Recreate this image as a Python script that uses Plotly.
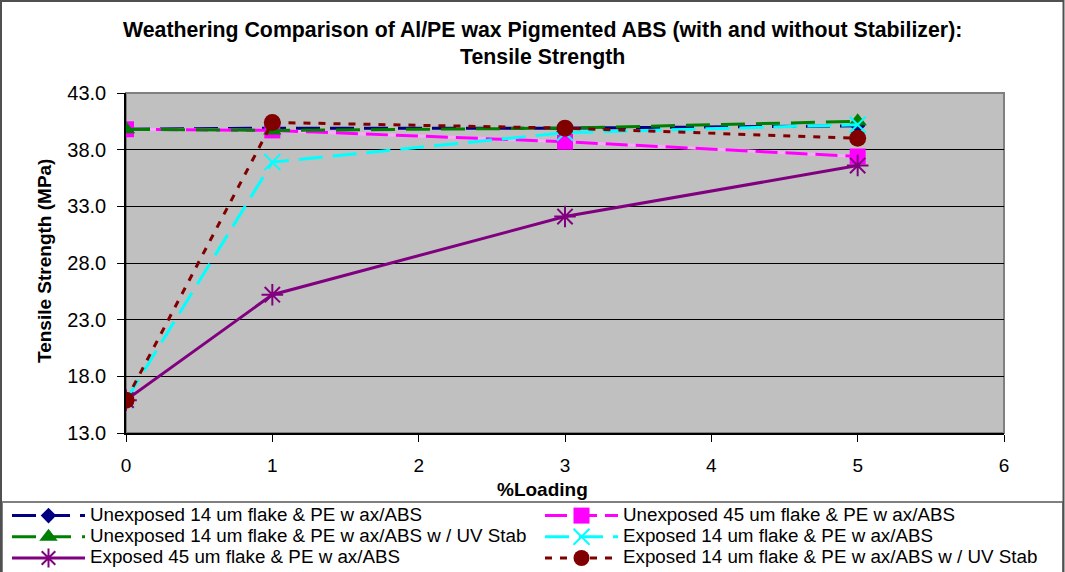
import plotly.graph_objects as go

# % loading of pigment
loading = [0, 1, 3, 5]

# Tensile strength (MPa) per formulation
unexp_14 = [39.8, 39.9, 39.9, 40.1]
unexp_45 = [39.8, 39.7, 38.7, 37.4]
unexp_14_uv = [39.8, 39.7, 39.9, 40.5]
exp_14 = [15.9, 36.9, 39.5, 40.2]
exp_45 = [15.9, 25.2, 32.1, 36.6]
exp_14_uv = [15.9, 40.4, 39.9, 39.0]

names = [
    "Unexposed 14 um flake & PE w ax/ABS",
    "Unexposed 45 um flake & PE w ax/ABS",
    "Unexposed 14 um flake & PE w ax/ABS w / UV Stab",
    "Exposed 14 um flake & PE w ax/ABS",
    "Exposed 45 um flake & PE w ax/ABS",
    "Exposed 14 um flake & PE w ax/ABS w / UV Stab",
]

y_ticks = [13.0, 18.0, 23.0, 28.0, 33.0, 38.0, 43.0]
x_ticks = [0, 1, 2, 3, 4, 5, 6]

FONT = "Liberation Sans, Arial, sans-serif"

W, H = 1065, 572
L, R, T, B = 126, 61, 93, 139
pw, ph = W - L - R, H - T - B


def px_x(x):
    return (x - L) / pw


def px_y(y):
    return (H - B - y) / ph


def entry(label):
    # legend rows are spaced by the (small) legend font; the label is drawn larger
    return f'<span style="font-size:18.8px">{label}</span>'


fig = go.Figure()

fig.add_trace(go.Scatter(
    x=loading, y=unexp_14, name=entry(names[0]), mode="lines+markers", legend="legend",
    line=dict(color="#000080", width=3, dash="24px,10px"),
    marker=dict(symbol="diamond", size=12, color="#000080"),
))
# light pink underlay for the two-tone magenta line
fig.add_trace(go.Scatter(
    x=loading, y=unexp_45, mode="lines", showlegend=False, hoverinfo="skip",
    line=dict(color="#FFA6FF", width=3),
))
fig.add_trace(go.Scatter(
    x=loading, y=unexp_45, name=entry(names[1]), mode="lines+markers", legend="legend2",
    line=dict(color="#FF00FF", width=3, dash="22px,8px"),
    marker=dict(symbol="square", size=16, color="#FF00FF"),
))
fig.add_trace(go.Scatter(
    x=loading, y=unexp_14_uv, name=entry(names[2]), mode="lines+markers", legend="legend",
    line=dict(color="#008000", width=3, dash="24px,11px"),
    marker=dict(symbol="triangle-up", size=16, color="#008000"),
))
fig.add_trace(go.Scatter(
    x=loading, y=exp_14, name=entry(names[3]), mode="lines+markers", legend="legend2",
    line=dict(color="#00FFFF", width=3, dash="24px,10px"),
    marker=dict(symbol="x-thin-open", size=16,
                line=dict(color="#00FFFF", width=2)),
))
fig.add_trace(go.Scatter(
    x=loading, y=exp_45, name=entry(names[4]), mode="lines+markers", legend="legend",
    line=dict(color="#800080", width=3),
    marker=dict(symbol="asterisk-open", size=18,
                line=dict(color="#800080", width=2)),
))
fig.add_trace(go.Scatter(
    x=loading, y=exp_14_uv, name=entry(names[5]), mode="lines+markers", legend="legend2",
    line=dict(color="#800000", width=3, dash="7px,8px"),
    marker=dict(symbol="circle", size=17, color="#800000"),
))

shapes = [
    # plot-area frame
    dict(type="rect", xref="paper", yref="paper", x0=0, x1=1, y0=0, y1=1,
         line=dict(color="#808080", width=2), layer="below"),
    # legend box
    dict(type="rect", xref="paper", yref="paper",
         x0=px_x(2), x1=px_x(1063), y0=px_y(502), y1=px_y(580),
         line=dict(color="#808080", width=2)),
    # chart border
    dict(type="rect", xref="paper", yref="paper",
         x0=px_x(1), x1=px_x(1063.5), y0=px_y(1), y1=px_y(580),
         line=dict(color="#505050", width=2)),
]

annotations = [
    dict(text="<b>Weathering Comparison of Al/PE wax Pigmented ABS (with and without Stabilizer):</b>",
         xref="paper", yref="paper", x=px_x(542), y=px_y(30), showarrow=False,
         xanchor="center", yanchor="middle", font=dict(size=21.3, color="black", family=FONT)),
    dict(text="<b>Tensile Strength</b>",
         xref="paper", yref="paper", x=px_x(542), y=px_y(57), showarrow=False,
         xanchor="center", yanchor="middle", font=dict(size=21.3, color="black", family=FONT)),
    dict(text="<b>%Loading</b>",
         xref="paper", yref="paper", x=px_x(542), y=px_y(489), showarrow=False,
         xanchor="center", yanchor="middle", font=dict(size=19, color="black", family=FONT)),
    dict(text="<b>Tensile Strength (MPa)</b>", textangle=-90,
         xref="paper", yref="paper", x=px_x(44), y=px_y(261), showarrow=False,
         xanchor="center", yanchor="middle", font=dict(size=19, color="black", family=FONT)),
]

legend_common = dict(
    orientation="v", xanchor="left", yanchor="top",
    font=dict(size=14, family=FONT, color="black"),
    bgcolor="rgba(0,0,0,0)", itemwidth=73, tracegroupgap=0, borderwidth=0,
)

fig.update_layout(
    width=W, height=H,
    margin=dict(l=L, r=R, t=T, b=B, autoexpand=False),
    paper_bgcolor="white",
    plot_bgcolor="#C0C0C0",
    font=dict(family=FONT, size=20, color="black"),
    shapes=shapes,
    annotations=annotations,
    legend=dict(x=px_x(7), y=px_y(500), **legend_common),
    legend2=dict(x=px_x(540), y=px_y(500), **legend_common),
    showlegend=True,
)

fig.update_xaxes(
    range=[0, 6], tickvals=x_ticks, ticks="outside", ticklen=7, tickcolor="black",
    showline=True, linecolor="black", linewidth=1.5, showgrid=False, zeroline=False,
    tickfont=dict(size=19, family=FONT), ticklabelstandoff=7,
)
fig.update_yaxes(
    range=[13, 43], tickvals=y_ticks, tickformat=".1f", ticks="outside", ticklen=7,
    tickcolor="black", showline=True, linecolor="black", linewidth=1.5,
    showgrid=True, gridcolor="black", gridwidth=1, zeroline=False,
    tickfont=dict(size=20, family=FONT), ticklabelstandoff=7,
)

fig.write_html("out.html")
